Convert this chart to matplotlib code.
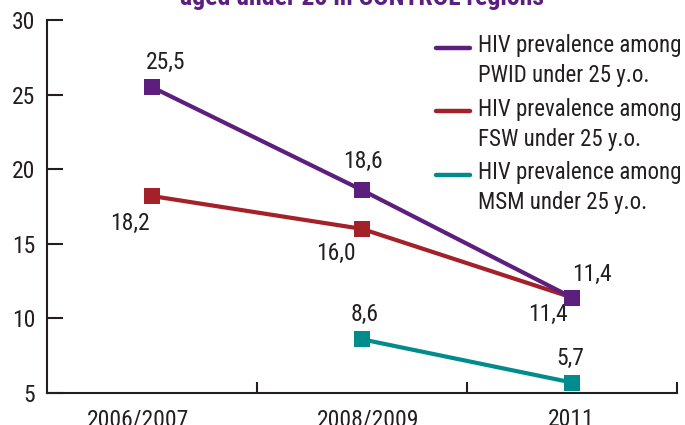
import matplotlib
matplotlib.use("Agg")
import numpy as np
import matplotlib.pyplot as plt
import matplotlib.lines as mlines
from matplotlib.legend_handler import HandlerLine2D
from matplotlib import font_manager as fm

names = {f.name for f in fm.fontManager.ttflist}
fam = "Liberation Sans"
for cand in ["Roboto Condensed", "Liberation Sans Narrow", "Archivo Narrow", "PT Sans Narrow",
             "Pragati Narrow", "Open Sans Condensed"]:
    if cand in names:
        fam = cand
        break
plt.rcParams['font.family'] = [fam, 'DejaVu Sans']

categories = ["2006/2007", "2008/2009", "2011"]
pwid = [25.5, 18.6, 11.4]
fsw = [18.2, 16.0, 11.4]
msm_cats = ["2008/2009", "2011"]
msm = [8.6, 5.7]
labels = ["HIV prevalence among\nPWID under 25 y.o.",
          "HIV prevalence among\nFSW under 25 y.o.",
          "HIV prevalence among\nMSM under 25 y.o."]
title = "aged under 25 in CONTROL regions"
yticks = [5, 10, 15, 20, 25, 30]

c_pwid = "#5C1F7E"
c_fsw = "#A3222A"
c_msm = "#008C8C"
c_txt = "#231F20"

W, H = 685, 425
fig = plt.figure(figsize=(W/100, H/100), dpi=100)
ax = fig.add_axes([47/W, 1-393/H, 630/W, 373/H])

xpos = {c: i + 0.5 for i, c in enumerate(categories)}
xp = [xpos[c] for c in categories]
xm = [xpos[c] for c in msm_cats]
xlab_pos = [0.433, 1.529, 2.495]

lw = 3.0
ms = 11.5
kw = dict(lw=lw, marker='s', ms=ms, mew=0)
ax.plot(xp, fsw, color=c_fsw, zorder=3, **kw)
ax.plot(xp, pwid, color=c_pwid, zorder=4, **kw)
ax.plot(xm, msm, color=c_msm, zorder=3, **kw)

fs = 17
def lab(x, y, dx, dy):
    ax.annotate(f"{y:.1f}".replace(".", ","), (x, y), xytext=(dx, -dy),
                textcoords='offset pixels', ha='center', va='center',
                fontsize=fs, color=c_txt)

lab(xp[0], pwid[0], 14, -25)
lab(xp[1], pwid[1], 1, -29)
lab(xp[2], pwid[2], 20, -23)
lab(xp[0], fsw[0], -22, 27)
lab(xp[1], fsw[1], -26, 25)
lab(xp[2], fsw[2], -24, 17)
lab(xm[0], msm[0], 3, -25)
lab(xm[1], msm[1], -2, -24)

ax.set_xlim(0, 3)
ax.set_ylim(5, 30)
ax.set_yticks(yticks)
ax.set_yticklabels([str(v) for v in yticks])
ax.set_xticks([1, 2, 3])
ax.set_xticklabels(["", "", ""])
ax.set_xticks(xlab_pos, minor=True)
ax.set_xticklabels(categories, minor=True)
ax.tick_params(axis='x', which='major', direction='in', length=8, width=1.5, color=c_txt)
ax.tick_params(axis='x', which='minor', length=0, pad=11, labelsize=fs, labelcolor=c_txt)
ax.tick_params(axis='y', direction='in', length=11.5, width=1.5, pad=8.6, labelsize=fs,
               color=c_txt, labelcolor=c_txt)
for s in ['top', 'right']:
    ax.spines[s].set_visible(False)
for s in ['left', 'bottom']:
    ax.spines[s].set_linewidth(1.5)
    ax.spines[s].set_color(c_txt)


class TopLine(HandlerLine2D):
    def create_artists(self, legend, orig_handle, xdescent, ydescent, width, height,
                       fontsize, trans):
        arts = super().create_artists(legend, orig_handle, xdescent, ydescent, width,
                                      height, fontsize, trans)
        for a in arts:
            a.set_ydata(np.asarray(a.get_ydata()) + 0.6 * fontsize)
        return arts


lfs = 16.5
hs = [mlines.Line2D([], [], color=c, lw=3.2, solid_capstyle='round')
      for c in (c_pwid, c_fsw, c_msm)]
leg = ax.legend(hs, labels, loc='upper left', bbox_to_anchor=(436/W, 1-34/H),
                bbox_transform=fig.transFigure, frameon=False, fontsize=lfs,
                handlelength=1.48, handletextpad=0.35, labelspacing=0.45,
                borderaxespad=0, borderpad=0, labelcolor=c_txt,
                handler_map={mlines.Line2D: TopLine()})
for t in leg.get_texts():
    t.set_linespacing(1.4)

fig.text(0.528, 1-5.5/H, title, ha='center', va='baseline', fontsize=18.5,
         fontweight='bold', color=c_pwid)

fig.savefig("out.png", dpi=100)
